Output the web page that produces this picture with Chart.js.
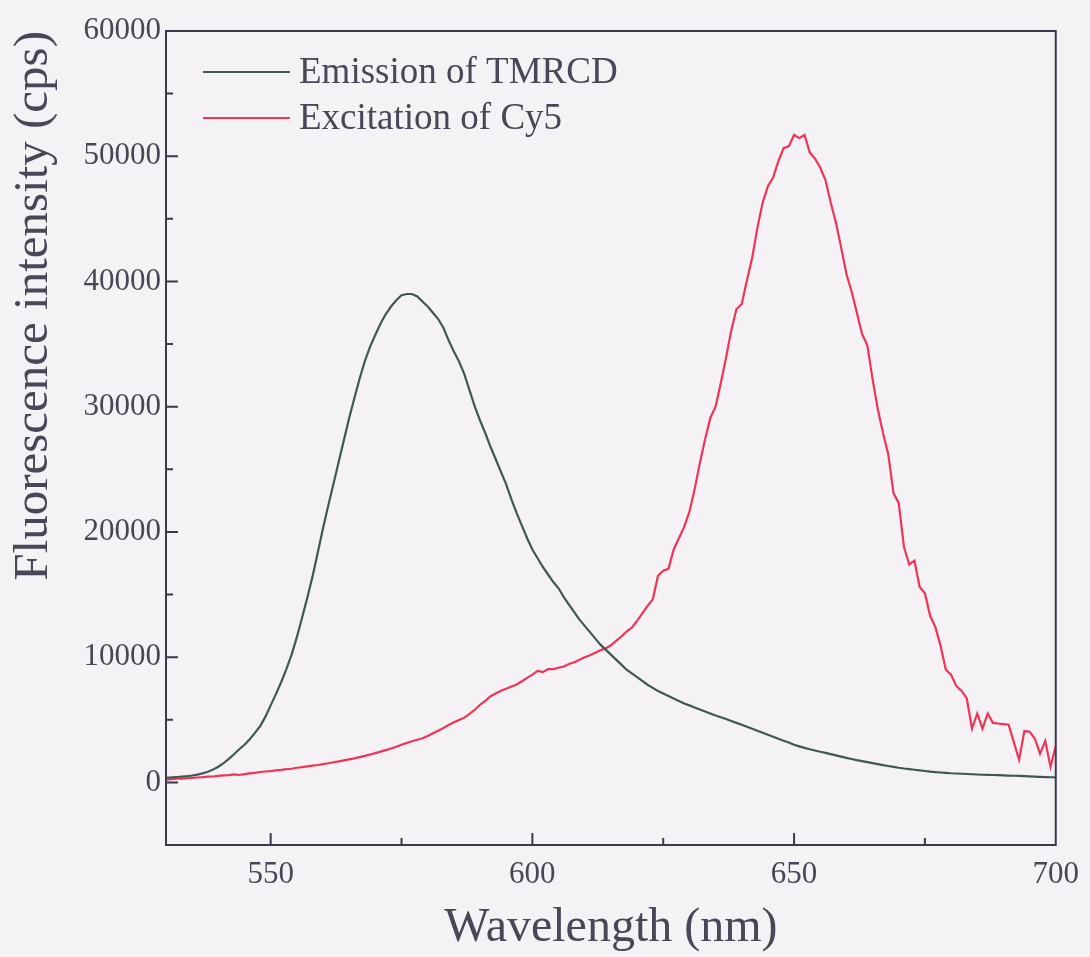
<!DOCTYPE html>
<html>
<head>
<meta charset="utf-8">
<script src="https://cdn.jsdelivr.net/npm/chart.js@4.4.0/dist/chart.umd.min.js"></script>
<style>
    html, body { margin: 0; padding: 0; background: #f4f2f4; }
    canvas { display: block; }
</style>
</head>
<body>
<canvas id="spectra-chart" width="1090" height="957"></canvas>
<script>
// Longueurs d'onde (nm), un point par nm
const wavelengths = [
    530, 531, 532, 533, 534, 535, 536, 537, 538, 539,
    540, 541, 542, 543, 544, 545, 546, 547, 548, 549,
    550, 551, 552, 553, 554, 555, 556, 557, 558, 559,
    560, 561, 562, 563, 564, 565, 566, 567, 568, 569,
    570, 571, 572, 573, 574, 575, 576, 577, 578, 579,
    580, 581, 582, 583, 584, 585, 586, 587, 588, 589,
    590, 591, 592, 593, 594, 595, 596, 597, 598, 599,
    600, 601, 602, 603, 604, 605, 606, 607, 608, 609,
    610, 611, 612, 613, 614, 615, 616, 617, 618, 619,
    620, 621, 622, 623, 624, 625, 626, 627, 628, 629,
    630, 631, 632, 633, 634, 635, 636, 637, 638, 639,
    640, 641, 642, 643, 644, 645, 646, 647, 648, 649,
    650, 651, 652, 653, 654, 655, 656, 657, 658, 659,
    660, 661, 662, 663, 664, 665, 666, 667, 668, 669,
    670, 671, 672, 673, 674, 675, 676, 677, 678, 679,
    680, 681, 682, 683, 684, 685, 686, 687, 688, 689,
    690, 691, 692, 693, 694, 695, 696, 697, 698, 699,
    700
];

// Emission of TMRCD (cps)
const emissionTMRCD = [
    380, 400, 430, 460, 500, 550, 620, 720, 850, 1020,
    1250, 1530, 1880, 2250, 2650, 3000, 3450, 3950, 4500, 5250,
    6150, 7050, 8000, 9050, 10200, 11600, 13150, 14750, 16450, 18350,
    20300, 22100, 23850, 25600, 27350, 29100, 30700, 32250, 33650, 34800,
    35750, 36650, 37400, 38000, 38500, 38900, 39000, 39000, 38800, 38400,
    38000, 37500, 37000, 36300, 35300, 34400, 33600, 32600, 31300, 30000,
    28900, 27900, 26800, 25800, 24800, 23800, 22600, 21500, 20500, 19500,
    18600, 17900, 17200, 16600, 16000, 15500, 14800, 14200, 13600, 13000,
    12500, 12000, 11500, 11000, 10600, 10200, 9800, 9400, 9000, 8700,
    8400, 8100, 7800, 7550, 7300, 7100, 6900, 6700, 6500, 6300,
    6150, 5980, 5820, 5660, 5500, 5340, 5200, 5060, 4900, 4750,
    4600, 4440, 4280, 4120, 3960, 3800, 3640, 3480, 3330, 3180,
    3000, 2880, 2760, 2650, 2550, 2450, 2360, 2260, 2160, 2060,
    1960, 1870, 1780, 1700, 1620, 1540, 1460, 1380, 1310, 1240,
    1170, 1110, 1060, 1010, 960, 910, 860, 820, 790, 760,
    730, 710, 690, 670, 650, 630, 610, 600, 590, 575,
    560, 545, 530, 515, 500, 480, 460, 440, 425, 410,
    400
];

// Excitation of Cy5 (cps)
const excitationCy5 = [
    220, 260, 290, 300, 330, 360, 390, 420, 460, 470,
    520, 560, 580, 640, 590, 660, 720, 760, 830, 870,
    900, 960, 1000, 1060, 1090, 1170, 1220, 1280, 1340, 1390,
    1460, 1530, 1610, 1680, 1760, 1840, 1920, 2020, 2120, 2230,
    2340, 2460, 2580, 2710, 2850, 3010, 3150, 3280, 3400, 3520,
    3700, 3920, 4130, 4350, 4580, 4800, 4990, 5170, 5470, 5800,
    6200, 6500, 6880, 7100, 7320, 7480, 7650, 7820, 8080, 8350,
    8600, 8900, 8800, 9050, 9050, 9150, 9250, 9450, 9600, 9800,
    10000, 10150, 10350, 10550, 10700, 10950, 11300, 11650, 12050, 12350,
    12900, 13500, 14100, 14600, 16500, 16900, 17050, 18600, 19500, 20400,
    21600, 23400, 25500, 27400, 29100, 30000, 31900, 33900, 36100, 37800,
    38200, 40100, 41900, 44300, 46300, 47600, 48300, 49600, 50650, 50800,
    51700, 51450, 51700, 50300, 49800, 49100, 48100, 46300, 44700, 42700,
    40600, 39200, 37500, 35800, 34900, 32200, 29800, 27900, 26200, 23100,
    22300, 18800, 17400, 17700, 15600, 15100, 13300, 12400, 10900, 9000,
    8600, 7700, 7300, 6700, 4300, 5500, 4300, 5500, 4750, 4700,
    4650, 4600, 3200, 1800, 4100, 4050, 3500, 2300, 3300, 1250,
    2900
];

// Graduations avec etiquette
const xTickLabels = [550, 600, 650, 700];
const yTickLabels = [0, 10000, 20000, 30000, 40000, 50000, 60000];

const seriesLabels = ['Emission of TMRCD', 'Excitation of Cy5'];
const seriesColors = ['#3d5a50', '#ef3456'];

const FONT = '"Liberation Serif", "Times New Roman", serif';
const TEXT_COLOR = '#4a4658';
const AXIS_COLOR = '#3b3a4c';

// Fond du canvas
const backgroundPlugin = {
    id: 'background',
    beforeDraw(chart) {
        const ctx = chart.ctx;
        ctx.save();
        ctx.fillStyle = '#f4f2f4';
        ctx.fillRect(0, 0, chart.width, chart.height);
        ctx.restore();
    }
};

// Cadre + graduations vers l'interieur
const framePlugin = {
    id: 'frame',
    afterDatasetsDraw(chart) {
        const { ctx, chartArea: a, scales } = chart;
        ctx.save();
        ctx.strokeStyle = AXIS_COLOR;
        ctx.lineWidth = 2;
        ctx.strokeRect(a.left, a.top, a.right - a.left, a.bottom - a.top);

        ctx.beginPath();
        scales.x.ticks.forEach(t => {
            if (t.value <= scales.x.min || t.value >= scales.x.max) return;
            const len = xTickLabels.includes(t.value) ? 12 : 7;
            const px = scales.x.getPixelForValue(t.value);
            ctx.moveTo(px, a.bottom);
            ctx.lineTo(px, a.bottom - len);
        });
        scales.y.ticks.forEach(t => {
            if (t.value <= scales.y.min || t.value >= scales.y.max) return;
            const len = yTickLabels.includes(t.value) ? 12 : 7;
            const py = scales.y.getPixelForValue(t.value);
            ctx.moveTo(a.left, py);
            ctx.lineTo(a.left + len, py);
        });
        ctx.stroke();
        ctx.restore();
    }
};

// Legende dans la zone du graphique
const insideLegendPlugin = {
    id: 'insideLegend',
    afterDraw(chart) {
        const { ctx, chartArea: a } = chart;
        ctx.save();
        ctx.font = '37px ' + FONT;
        ctx.textBaseline = 'middle';
        chart.data.datasets.forEach((ds, i) => {
            const y = a.top + 41 + i * 46;
            ctx.strokeStyle = ds.borderColor;
            ctx.lineWidth = 2;
            ctx.beginPath();
            ctx.moveTo(a.left + 37, y);
            ctx.lineTo(a.left + 124, y);
            ctx.stroke();
            ctx.fillStyle = TEXT_COLOR;
            ctx.fillText(ds.label, a.left + 133, y + 1);
        });
        ctx.restore();
    }
};

function toPoints(values) {
    return values.map((v, i) => ({ x: wavelengths[i], y: v }));
}

const ctx = document.getElementById('spectra-chart');
const chart = new Chart(ctx, {
    type: 'line',
    data: {
        datasets: [
            {
                label: seriesLabels[0],
                data: toPoints(emissionTMRCD),
                borderColor: seriesColors[0],
                borderWidth: 2.2,
                pointRadius: 0,
                tension: 0,
                fill: false
            },
            {
                label: seriesLabels[1],
                data: toPoints(excitationCy5),
                borderColor: seriesColors[1],
                borderWidth: 2.2,
                pointRadius: 0,
                tension: 0,
                fill: false
            }
        ]
    },
    options: {
        responsive: false,
        animation: false,
        devicePixelRatio: 1,
        layout: {
            padding: { top: 31, right: 32, left: 0, bottom: 0 }
        },
        plugins: {
            legend: { display: false },
            tooltip: { enabled: false }
        },
        scales: {
            x: {
                type: 'linear',
                min: 530,
                max: 700,
                afterFit: scale => { scale.height = 112; },
                grid: { display: false, drawTicks: false },
                border: { display: false },
                ticks: {
                    stepSize: 25,
                    autoSkip: false,
                    maxRotation: 0,
                    padding: 11,
                    color: TEXT_COLOR,
                    font: { family: FONT, size: 31 },
                    callback: v => xTickLabels.includes(v) ? String(v) : ''
                },
                title: {
                    display: true,
                    text: 'Wavelength (nm)',
                    color: TEXT_COLOR,
                    font: { family: FONT, size: 48, lineHeight: 1 },
                    padding: { top: 0, bottom: 5 }
                }
            },
            y: {
                min: -5000,
                max: 60000,
                afterFit: scale => { scale.width = 166; },
                grid: { display: false, drawTicks: false },
                border: { display: false },
                ticks: {
                    stepSize: 5000,
                    autoSkip: false,
                    padding: 5,
                    color: TEXT_COLOR,
                    font: { family: FONT, size: 31 },
                    callback: v => yTickLabels.includes(v) ? String(v) : ''
                },
                title: {
                    display: true,
                    text: 'Fluorescence intensity (cps)',
                    align: 'end',
                    color: TEXT_COLOR,
                    font: { family: FONT, size: 49, lineHeight: 1 },
                    padding: { top: 10, bottom: 0 }
                }
            }
        }
    },
    plugins: [backgroundPlugin, framePlugin, insideLegendPlugin]
});
</script>
</body>
</html>
